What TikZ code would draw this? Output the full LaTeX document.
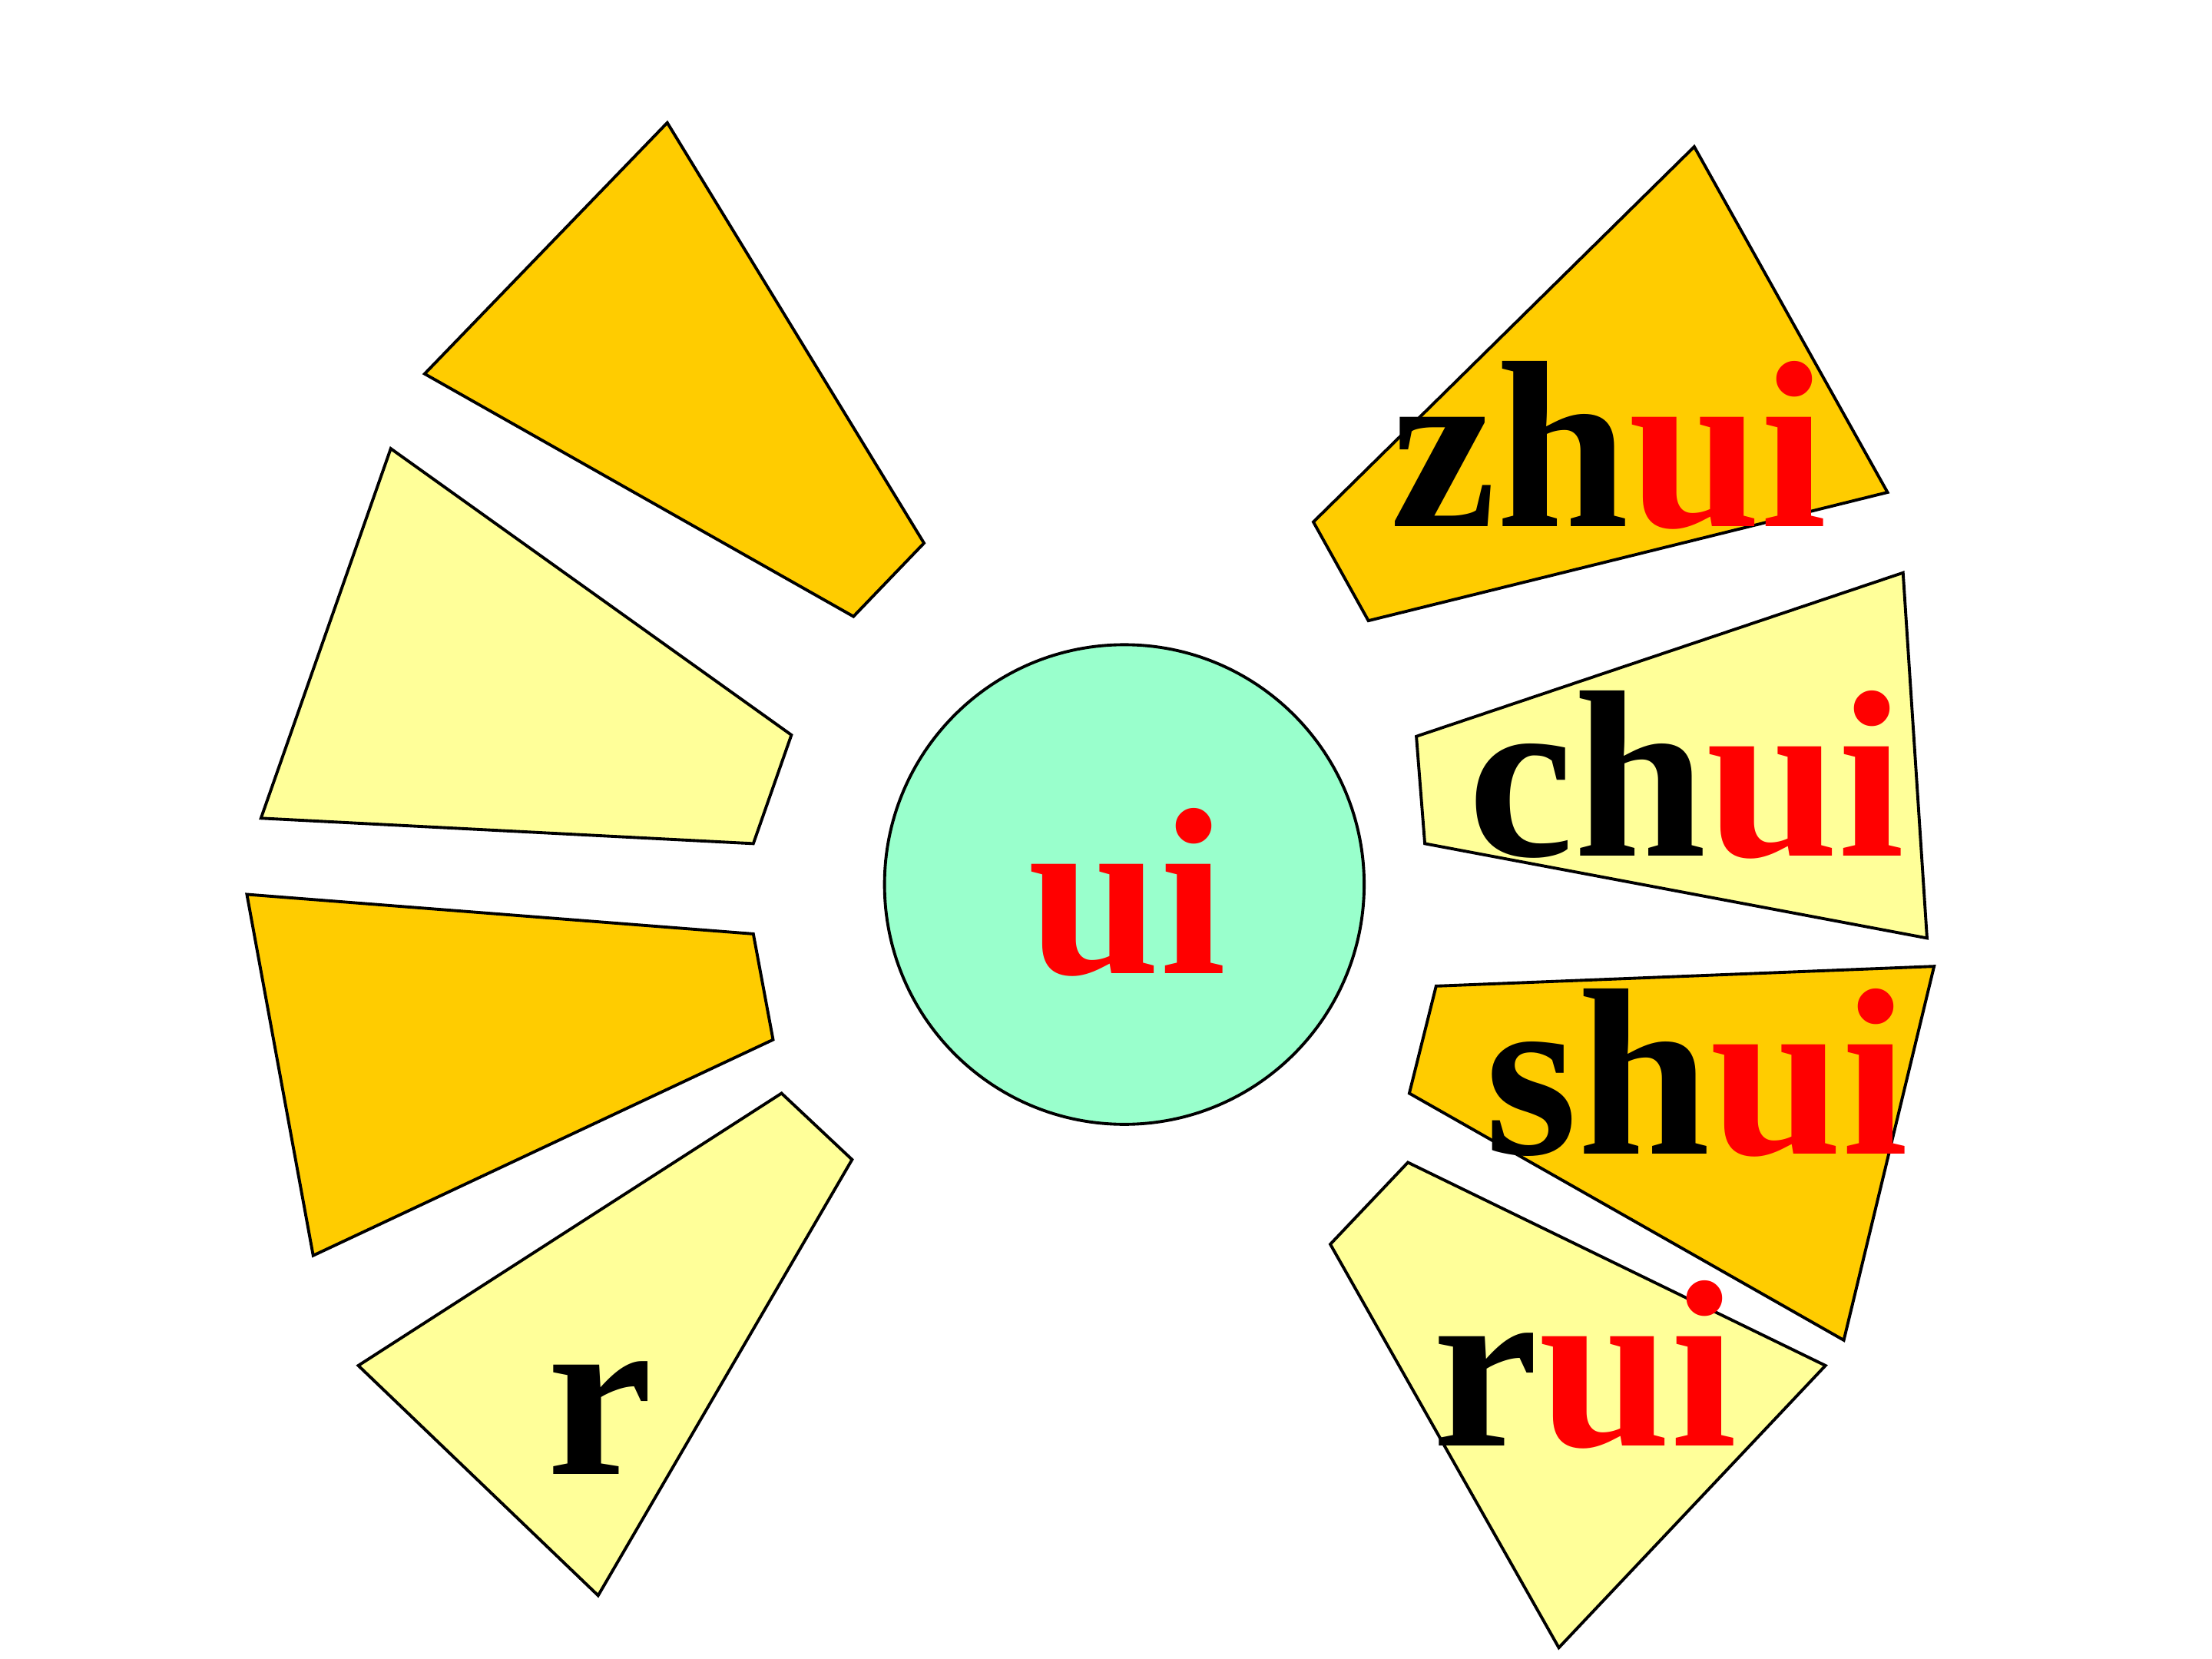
\documentclass[tikz,border=0pt]{standalone}
\usepackage{fontspec}
\newfontfamily\pinyinfont{LiberationSerif-Bold.ttf}
\usepackage{xcolor}
\usepackage{tikz}
\definecolor{gold}{HTML}{FFCC00}
\definecolor{paleyellow}{HTML}{FFFF99}
\definecolor{mint}{HTML}{99FFCC}
\newcommand{\py}[2]{{\color{black}#1}{\color{red}#2}}

\begin{document}
\begin{tikzpicture}[x=0.01cm,y=-0.01cm,
  gold blade/.style={fill=gold,draw=black,line width=0.6pt,line join=miter},
  pale blade/.style={fill=paleyellow,draw=black,line width=0.6pt,line join=miter},
  syllable/.style={anchor=base west,inner sep=0pt,font=\pinyinfont\fontsize{48}{48}\selectfont}]
\useasboundingbox (0,0) rectangle (1568,1176);
% left fan
\draw[gold blade] (473,87) -- (655,385) -- (605,437) -- (301,265) -- cycle;
\draw[pale blade] (277,318) -- (561,521) -- (534,598) -- (185,580) -- cycle;
\draw[gold blade] (175,634) -- (534,662) -- (548,737) -- (222,890) -- cycle;
\draw[pale blade] (554,775) -- (604,822) -- (424,1131) -- (254,968) -- cycle;
% right fan
\draw[gold blade] (1201,104) -- (1338,349) -- (970,440) -- (931,370) -- cycle;
\draw[pale blade] (1349,406) -- (1366,665) -- (1010,598) -- (1004,522) -- cycle;
\draw[gold blade] (1018,699) -- (1371,685) -- (1307,950) -- (999,775) -- cycle;
\draw[pale blade] (998,824) -- (1294,968) -- (1105,1168) -- (943,882) -- cycle;
% centre
\draw[fill=mint,line width=0.6pt] (797,627) circle (170);
\node[syllable] (final) at (728,690) {\py{}{ui}};
\node[syllable] (zhui) at (985,373) {\py{zh}{ui}};
\node[syllable] (chui) at (1040,607) {\py{ch}{ui}};
\node[syllable] (shui) at (1052,818) {\py{sh}{ui}};
\node[syllable] (rui) at (1015,1025) {\py{r}{ui}};
\node[syllable] (initial) at (387,1045) {\py{r}{}};
\end{tikzpicture}
\end{document}
